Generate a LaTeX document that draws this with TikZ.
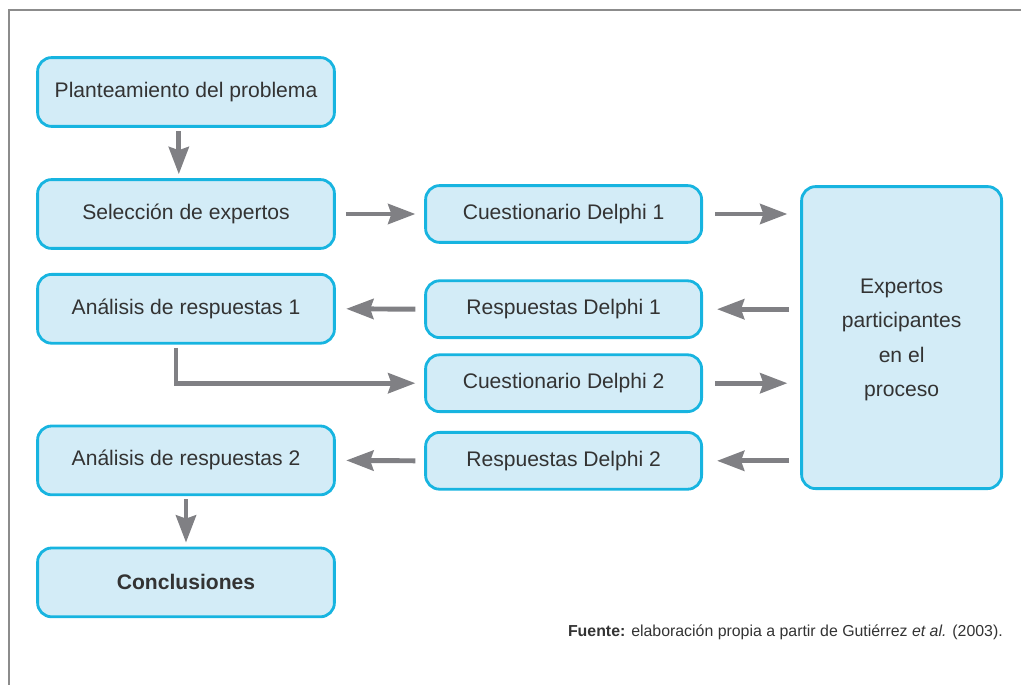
\documentclass[tikz,border=0pt]{standalone}
\usepackage{fontspec}
\setmainfont{Liberation Sans}
\usetikzlibrary{arrows.meta}
\definecolor{cajaborde}{HTML}{17B4E0}
\definecolor{cajafondo}{HTML}{D3ECF7}
\definecolor{flechagris}{HTML}{808084}
\definecolor{texto}{HTML}{333333}
\definecolor{marco}{HTML}{8C8C8C}

\begin{document}
\begin{tikzpicture}[
	caja/.style={draw=cajaborde, fill=cajafondo, line width=2pt, rounded corners=0.35cm, align=center, text=texto, inner sep=0pt, font=\fontsize{15}{24.5}\selectfont},
	cajaizq/.style={caja, minimum width=7.42cm, minimum height=1.72cm},
	cajamed/.style={caja, minimum width=6.9cm, minimum height=1.42cm},
	flecha/.style={line width=3.5pt, color=flechagris, -{Stealth[length=0.68cm,width=0.5cm,inset=0.08cm]}}
	]
	\useasboundingbox (0,0) rectangle (25.525,-17.125);
	\draw[marco, line width=1pt] (0.225,-17.125) |- (25.525,-0.25);
	
	\node[cajaizq] (plant) at (4.65,-2.3) {Planteamiento del problema};
	\node[cajaizq] (sel) at (4.65,-5.35) {Selección de expertos};
	\node[cajaizq] (anal1) at (4.65,-7.72) {Análisis de respuestas 1};
	\node[cajaizq] (anal2) at (4.65,-11.51) {Análisis de respuestas 2};
	\node[cajaizq] (concl) at (4.65,-14.56) {\textbf{Conclusiones}};
	
	\node[cajamed] (cues1) at (14.09,-5.35) {Cuestionario Delphi 1};
	\node[cajamed] (resp1) at (14.09,-7.73) {Respuestas Delphi 1};
	\node[cajamed] (cues2) at (14.09,-9.58) {Cuestionario Delphi 2};
	\node[cajamed] (resp2) at (14.09,-11.52) {Respuestas Delphi 2};
	
	\node[caja, minimum width=5cm, minimum height=7.55cm, text depth=-0.1cm] (exp) at (22.54,-8.44) {Expertos\\participantes\\en el\\proceso};
	
	\draw[flecha] ([shift={(-0.18,-0.08)}]plant.south) -- ([shift={(-0.18,0.1)}]sel.north);
	\draw[flecha] ([xshift=0.25cm]sel.east) -- ([xshift=-0.22cm]cues1.west);
	\draw[flecha] ([xshift=0.3cm]cues1.east) -- ([xshift=-0.32cm]exp.west |- cues1.east);
	\draw[flecha] ([xshift=-0.28cm]exp.west |- resp1.east) -- ([xshift=0.35cm]resp1.east);
	\draw[flecha] ([xshift=-0.22cm]resp1.west) -- ([xshift=0.26cm]anal1.east);
	\draw[flecha] ([shift={(-0.25,-0.08)}]anal1.south) |- ([xshift=-0.22cm]cues2.west);
	\draw[flecha] ([xshift=0.3cm]cues2.east) -- ([xshift=-0.32cm]exp.west |- cues2.east);
	\draw[flecha] ([xshift=-0.28cm]exp.west |- resp2.east) -- ([xshift=0.35cm]resp2.east);
	\draw[flecha] ([xshift=-0.22cm]resp2.west) -- ([xshift=0.26cm]anal2.east);
	\draw[flecha] ([yshift=-0.08cm]anal2.south) -- ([yshift=0.1cm]concl.north);
	
	\node[anchor=east, inner sep=0pt, text=texto, font=\fontsize{11.3}{13}\selectfont] (fuente) at (25.075,-15.8) {\textbf{Fuente:} elaboración propia a partir de Gutiérrez \textit{et al.} (2003).};
\end{tikzpicture}
\end{document}
